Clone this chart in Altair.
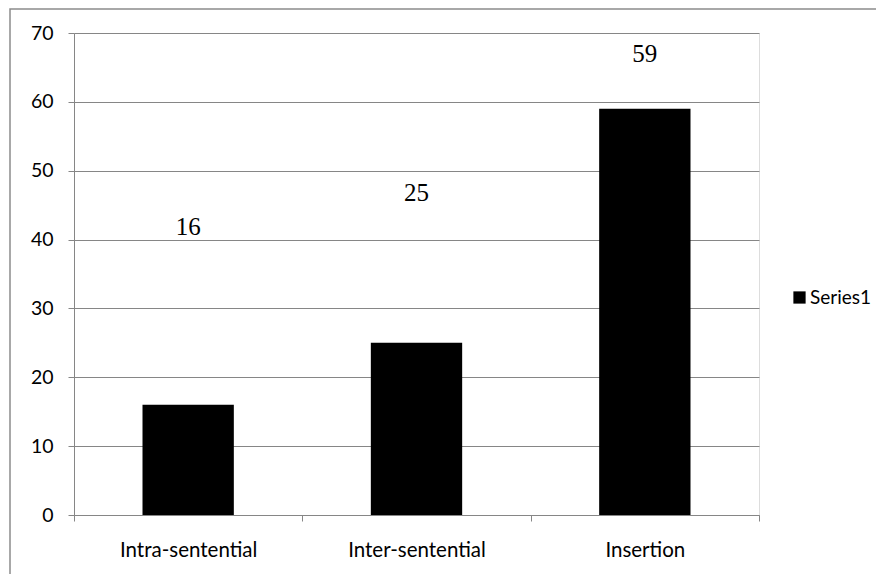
import altair as alt
import pandas as pd

categories = ["Intra-sentential", "Inter-sentential", "Insertion"]
values = [16, 25, 59]
label_text = ["16", "25", "59"]
label_level = [41.8, 46.7, 67.0]   # where each value label sits, in axis units
series = ["Series1", "Series1", "Series1"]
y_ticks = [0, 10, 20, 30, 40, 50, 60, 70]

df = pd.DataFrame({
    "category": categories,
    "value": values,
    "label": label_text,
    "level": label_level,
    "series": series,
})

W, H = 685, 482
AXIS_FONT = "Lato"
GRID = "#868686"

x_enc = alt.X(
    "category:N",
    sort=categories,
    scale=alt.Scale(paddingInner=0, paddingOuter=0),
    axis=alt.Axis(
        title=None, labelAngle=0, tickBand="extent", ticks=True, tickSize=6,
        tickColor=GRID, domainColor=GRID, labelFont=AXIS_FONT, labelFontSize=20.5,
        labelColor="black", labelPadding=19, grid=False,
    ),
)

bars = alt.Chart(df).mark_bar(width=alt.RelativeBandSize(0.4), color="black").encode(
    x=x_enc,
    y=alt.Y(
        "value:Q",
        scale=alt.Scale(domain=[0, 70], nice=False),
        axis=alt.Axis(
            title=None, values=y_ticks, grid=True, gridColor=GRID, gridWidth=1,
            tickColor=GRID, tickSize=6, domainColor=GRID, labelFont=AXIS_FONT,
            labelFontSize=19.5, labelColor="black", labelPadding=15,
        ),
    ),
    color=alt.Color(
        "series:N",
        scale=alt.Scale(range=["black"]),
        legend=alt.Legend(
            title=None, orient="none", legendX=716, legendY=255,
            symbolType="square", symbolSize=150, symbolStrokeWidth=0,
            labelFont=AXIS_FONT, labelFontSize=19, labelColor="black", labelOffset=1,
        ),
    ),
)

labels = alt.Chart(df).mark_text(
    font="Liberation Serif", fontSize=25, color="black", baseline="middle", align="center"
).encode(
    x=alt.X("category:N", sort=categories),
    y=alt.Y("level:Q"),
    text="label:N",
)

frame = alt.Chart(pd.DataFrame({"f": [0]})).mark_rect(
    fill=None, stroke="#8c8c8c", strokeWidth=1.5
).encode(
    x=alt.value(-64), x2=alt.value(840),
    y=alt.value(-24), y2=alt.value(580),
)

chart = alt.layer(frame, bars, labels).properties(
    width=W, height=H,
    autosize=alt.AutoSizeParams(type="none"),
    padding={"left": 66, "top": 25, "right": 117, "bottom": 59},
).configure_view(stroke=None).configure(background="white")

chart.save("out.html", embed_options={"renderer": "svg", "actions": False})
